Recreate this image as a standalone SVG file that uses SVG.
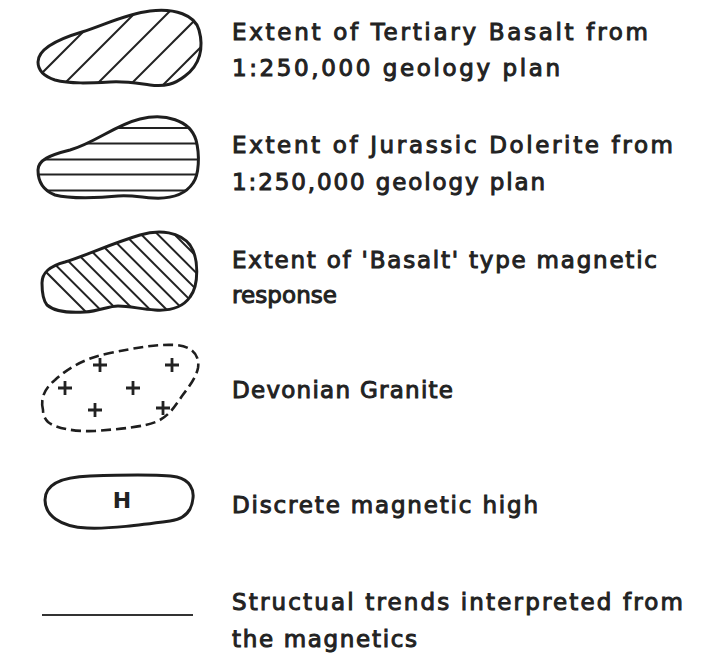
<svg xmlns="http://www.w3.org/2000/svg" width="714" height="657" viewBox="0 0 714 657">
<style>
.ol{fill:none;stroke:#1e1e1e;stroke-width:3;stroke-linejoin:round}
.ds{fill:none;stroke:#1e1e1e;stroke-width:2.6;stroke-dasharray:10 5}
.ht{stroke:#222;stroke-width:2;fill:none}
.pl{stroke:#222;stroke-width:2.8;fill:none}
.tx{font-family:"DejaVu Sans",sans-serif;font-size:23px;fill:#222;stroke:#222;stroke-width:1}
</style>
<defs>
<clipPath id="c1"><path id="p1" d="M38,62 C38,50 55,40 82,32 C105,25 125,14 150,11 C175,8 195,15 199,30 C204,48 200,65 185,76 C175,84 165,87 150,85 C135,83 125,81 110,82 C90,83 70,84 55,80 C43,76 38,70 38,62 Z"/></clipPath>
<clipPath id="c2"><path id="p2" d="M38,170 C38,160 50,155 70,150 C95,143 115,125 140,119 C165,113 190,120 196,140 C200,155 199,175 193,183 C185,195 170,199 153,198 C140,197 130,195 118,196 C100,198 70,199 55,195 C42,190 38,180 38,170 Z"/></clipPath>
<clipPath id="c3"><path id="p3" d="M42,283 C42,272 50,266 65,262 C85,256 110,244 140,235 C160,229 180,232 190,245 C199,258 199,285 190,297 C183,307 170,311 155,310 C140,309 130,306 118,306 C108,306 100,311 85,312 C70,313 55,312 47,305 C43,300 42,292 42,283 Z"/></clipPath>
</defs>
<rect width="714" height="657" fill="#fff"/>

<g id="basalt">
<g clip-path="url(#c1)" class="ht">
<line x1="15" y1="100" x2="115" y2="0"/>
<line x1="48" y1="100" x2="148" y2="0"/>
<line x1="81" y1="100" x2="181" y2="0"/>
<line x1="115" y1="100" x2="215" y2="0"/>
<line x1="148" y1="100" x2="248" y2="0"/>
</g>
<use href="#p1" class="ol"/>
<text class="tx" x="232" y="40" textLength="416" lengthAdjust="spacing">Extent of Tertiary Basalt from</text>
<text class="tx" x="232" y="76" textLength="328" lengthAdjust="spacing">1:250,000 geology plan</text>
</g>

<g id="dolerite">
<g clip-path="url(#c2)" class="ht">
<line x1="30" y1="128" x2="210" y2="128"/>
<line x1="30" y1="143.5" x2="210" y2="143.5"/>
<line x1="30" y1="159.5" x2="210" y2="159.5"/>
<line x1="30" y1="174.5" x2="210" y2="174.5"/>
<line x1="30" y1="190.5" x2="210" y2="190.5"/>
</g>
<use href="#p2" class="ol"/>
<text class="tx" x="232" y="153" textLength="441" lengthAdjust="spacing">Extent of Jurassic Dolerite from</text>
<text class="tx" x="232" y="190" textLength="313" lengthAdjust="spacing">1:250,000 geology plan</text>
</g>

<g id="magnetic-response">
<g clip-path="url(#c3)" class="ht">
<line x1="0" y1="226" x2="120" y2="346"/>
<line x1="16.6" y1="226" x2="136.6" y2="346"/>
<line x1="33.2" y1="226" x2="153.2" y2="346"/>
<line x1="49.8" y1="226" x2="169.8" y2="346"/>
<line x1="66.4" y1="226" x2="186.4" y2="346"/>
<line x1="83" y1="226" x2="203" y2="346"/>
<line x1="99.6" y1="226" x2="219.6" y2="346"/>
<line x1="116.2" y1="226" x2="236.2" y2="346"/>
<line x1="132.8" y1="226" x2="252.8" y2="346"/>
<line x1="149.4" y1="226" x2="269.4" y2="346"/>
<line x1="166" y1="226" x2="286" y2="346"/>
</g>
<use href="#p3" class="ol"/>
<text class="tx" x="232" y="268" textLength="425" lengthAdjust="spacing">Extent of 'Basalt' type magnetic</text>
<text class="tx" x="232" y="303" textLength="105" lengthAdjust="spacing">response</text>
</g>

<g id="granite">
<path class="ds" d="M43,410 C40,398 45,388 55,380 C68,368 85,358 110,353 C135,348 155,344 175,345 C192,346 200,355 198,368 C196,378 188,388 182,396 C175,406 170,415 158,421 C145,427 120,429 95,431 C75,432 55,428 48,422 C44,418 43,414 43,410 Z"/>
<path class="pl" d="M93,365 h14 M100,358 v14 M165,365 h14 M172,358 v14 M58,388 h14 M65,381 v14 M126,388 h14 M133,381 v14 M88,410 h14 M95,403 v14 M156,408 h14 M163,401 v14"/>
<text class="tx" x="232" y="398" textLength="221" lengthAdjust="spacing">Devonian Granite</text>
</g>

<g id="magnetic-high">
<path class="ol" d="M45,500 C45,485 60,477 90,476 C120,475 160,474 177,477 C190,480 194,490 193,498 C192,510 185,519 170,521 C140,525 110,529 87,528 C60,527 45,515 45,500 Z"/>
<text x="122" y="508" text-anchor="middle" style="font-family:'DejaVu Sans',sans-serif;font-size:22px;font-weight:bold;fill:#222">H</text>
<text class="tx" x="232" y="513" textLength="306" lengthAdjust="spacing">Discrete magnetic high</text>
</g>

<g id="structural-trends">
<line x1="42" y1="615" x2="193" y2="615" stroke="#333" stroke-width="2"/>
<text class="tx" x="232" y="610" textLength="451" lengthAdjust="spacing">Structual trends interpreted from</text>
<text class="tx" x="232" y="647" textLength="185" lengthAdjust="spacing">the magnetics</text>
</g>
</svg>
